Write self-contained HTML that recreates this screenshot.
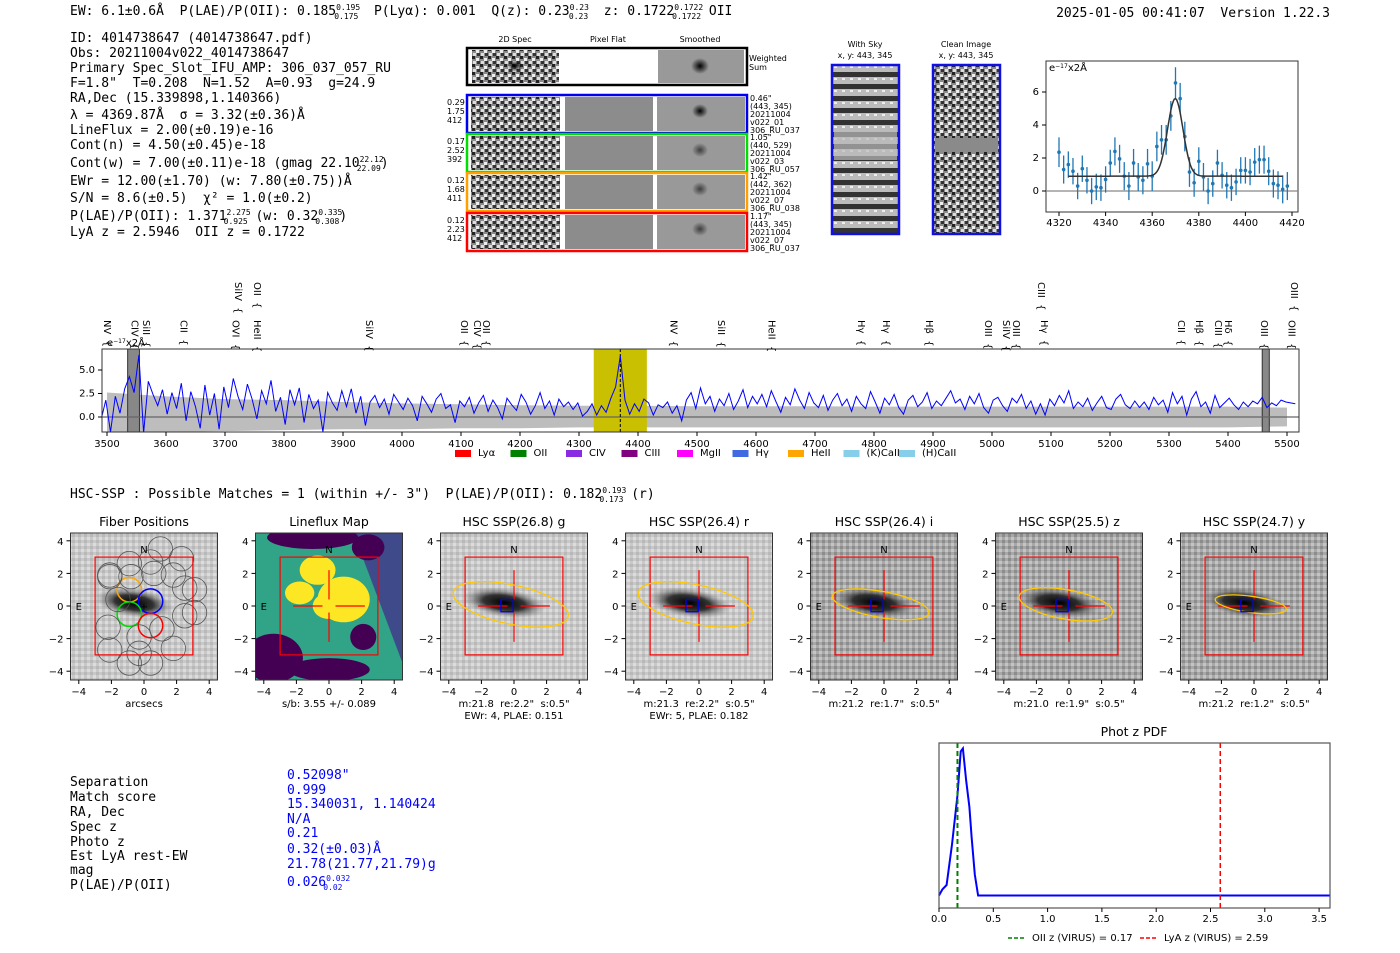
<!DOCTYPE html>
<html><head><meta charset="utf-8"><style>
html,body{margin:0;padding:0;background:#fff;}
svg{display:block;}
text{white-space:pre;}
.mono{font-family:"DejaVu Sans Mono","Liberation Mono",monospace;font-size:13px;fill:#000;}
.tk{font-family:"DejaVu Sans","Liberation Sans",sans-serif;font-size:10px;fill:#000;}
.sm{font-family:"DejaVu Sans","Liberation Sans",sans-serif;font-size:8px;fill:#000;}
.ttl{font-family:"DejaVu Sans","Liberation Sans",sans-serif;font-size:12.5px;fill:#000;}
</style></head><body>
<svg id="fig" width="1400" height="953" viewBox="0 0 1400 953" xmlns="http://www.w3.org/2000/svg" xml:space="preserve">
<defs>
<pattern id="noise" width="8" height="8" patternUnits="userSpaceOnUse">
<rect width="8" height="8" fill="#8a8a8a"/><rect x="0" y="0" width="3" height="3" fill="#222"/><rect x="4" y="2" width="3" height="3" fill="#eee"/><rect x="1" y="5" width="3" height="3" fill="#ddd"/><rect x="5" y="5" width="3" height="3" fill="#333"/>
</pattern>
<pattern id="hscn" width="6" height="6" patternUnits="userSpaceOnUse">
<rect width="6" height="6" fill="#c8c8c8"/><rect x="0" y="0" width="3" height="3" fill="#b8b8b8"/><rect x="3" y="3" width="3" height="3" fill="#dcdcdc"/>
</pattern>
<pattern id="hscd" width="6" height="6" patternUnits="userSpaceOnUse">
<rect width="6" height="6" fill="#a8a8a8"/><rect x="0" y="0" width="3" height="3" fill="#8c8c8c"/><rect x="3" y="3" width="3" height="3" fill="#c4c4c4"/>
</pattern>
<pattern id="sky" width="8" height="12" patternUnits="userSpaceOnUse">
<rect width="8" height="12" fill="#bbb"/><rect y="0" width="8" height="5" fill="#333"/><rect x="2" y="6" width="3" height="2" fill="#eee"/>
</pattern>
<radialGradient id="gal"><stop offset="0" stop-color="#000"/><stop offset="0.5" stop-color="#222" stop-opacity="0.9"/><stop offset="1" stop-color="#888" stop-opacity="0"/></radialGradient>
<radialGradient id="blob"><stop offset="0" stop-color="#000"/><stop offset="1" stop-color="#000" stop-opacity="0"/></radialGradient>
</defs>

<!-- header -->
<text class="mono" x="70" y="15">EW: 6.1±0.6Å  P(LAE)/P(OII): 0.185<tspan font-size="8" dy="-5">0.195</tspan><tspan font-size="8" dx="-26" dy="9">0.175</tspan><tspan dy="-4">  P(Lyα): 0.001  Q(z): 0.23</tspan><tspan font-size="8" dy="-5">0.23</tspan><tspan font-size="8" dx="-20" dy="9">0.23</tspan><tspan dy="-4">  z: 0.1722</tspan><tspan font-size="8" dy="-5">0.1722</tspan><tspan font-size="8" dx="-31" dy="9">0.1722</tspan><tspan dy="-4"> OII</tspan></text>
<text class="mono" x="1330" y="17" text-anchor="end">2025-01-05 00:41:07  Version 1.22.3</text>

<g class="mono">
<text x="70" y="42">ID: 4014738647 (4014738647.pdf)</text>
<text x="70" y="57">Obs: 20211004v022_4014738647</text>
<text x="70" y="72">Primary Spec_Slot_IFU_AMP: 306_037_057_RU</text>
<text x="70" y="87">F=1.8"  T=0.208  N=1.52  A=0.93  g=24.9</text>
<text x="70" y="102">RA,Dec (15.339898,1.140366)</text>
<text x="70" y="119">λ = 4369.87Å  σ = 3.32(±0.36)Å</text>
<text x="70" y="134">LineFlux = 2.00(±0.19)e-16</text>
<text x="70" y="149">Cont(n) = 4.50(±0.45)e-18</text>
<text x="70" y="167">Cont(w) = 7.00(±0.11)e-18 (gmag 22.10<tspan font-size="8" dy="-5">22.12</tspan><tspan font-size="8" dx="-27" dy="9">22.09</tspan><tspan dy="-4">)</tspan></text>
<text x="70" y="185">EWr = 12.00(±1.70) (w: 7.80(±0.75))Å</text>
<text x="70" y="202">S/N = 8.6(±0.5)  χ² = 1.0(±0.2)</text>
<text x="70" y="220">P(LAE)/P(OII): 1.371<tspan font-size="8" dy="-5">2.275</tspan><tspan font-size="8" dx="-27" dy="9">0.925</tspan><tspan dy="-4"> (w: 0.32</tspan><tspan font-size="8" dy="-5">0.335</tspan><tspan font-size="8" dx="-27" dy="9">0.308</tspan><tspan dy="-4">)</tspan></text>
<text x="70" y="236">LyA z = 2.5946  OII z = 0.1722</text>
</g>

<!-- 2D spec cutouts -->
<g>
<text class="sm" x="515" y="42" text-anchor="middle">2D Spec</text>
<text class="sm" x="608" y="42" text-anchor="middle">Pixel Flat</text>
<text class="sm" x="700" y="42" text-anchor="middle">Smoothed</text>
<rect x="467" y="48" width="280" height="37" fill="#fff" stroke="#000" stroke-width="2.5"/>
<rect x="472" y="50" width="87" height="33" fill="url(#noise)"/>
<ellipse cx="515" cy="66" rx="8" ry="6" fill="url(#blob)"/>
<rect x="658" y="50" width="86" height="33" fill="#999"/>
<ellipse cx="700" cy="66" rx="9" ry="8" fill="url(#blob)"/>
<text class="sm" x="749" y="61">Weighted</text><text class="sm" x="749" y="70">Sum</text>
<g id="rows2d"></g>
</g>

<g>
<text class="sm" x="865" y="47" text-anchor="middle" font-size="9">With Sky</text>
<text class="sm" x="865" y="58" text-anchor="middle" font-size="9">x, y: 443, 345</text>
<rect x="832" y="65" width="67" height="169" fill="url(#sky)" stroke="#1010e0" stroke-width="2.5"/>
<rect x="834" y="130" width="63" height="30" fill="#bbb" opacity="0.7"/>
<text class="sm" x="966" y="47" text-anchor="middle" font-size="9">Clean Image</text>
<text class="sm" x="966" y="58" text-anchor="middle" font-size="9">x, y: 443, 345</text>
<rect x="933" y="65" width="67" height="169" fill="url(#noise)" stroke="#1010e0" stroke-width="2.5"/>
<rect x="935" y="138" width="63" height="14" fill="#8a8a8a"/>
</g>

<g id="gfit"></g>
<g id="spec"></g>

<text class="mono" x="70" y="498">HSC-SSP : Possible Matches = 1 (within +/- 3")  P(LAE)/P(OII): 0.182<tspan font-size="8" dy="-5">0.193</tspan><tspan font-size="8" dx="-27" dy="9">0.173</tspan><tspan dy="-4"> (r)</tspan></text>
<g id="hsc"></g>

<g class="mono">
<text x="70" y="786">Separation</text><text x="70" y="801">Match score</text><text x="70" y="816">RA, Dec</text><text x="70" y="831">Spec z</text><text x="70" y="846">Photo z</text><text x="70" y="860">Est LyA rest-EW</text><text x="70" y="874">mag</text><text x="70" y="889">P(LAE)/P(OII)</text>
<g style="fill:#0000ff">
<text x="287" y="779" fill="#00f">0.52098"</text><text x="287" y="794" fill="#00f">0.999</text><text x="287" y="808" fill="#00f">15.340031, 1.140424</text><text x="287" y="823" fill="#00f">N/A</text><text x="287" y="837" fill="#00f">0.21</text><text x="287" y="853" fill="#00f">0.32(±0.03)Å</text><text x="287" y="868" fill="#00f">21.78(21.77,21.79)g</text><text x="287" y="886" fill="#00f">0.026<tspan font-size="8" dy="-5">0.032</tspan><tspan font-size="8" dx="-27" dy="9">0.02</tspan></text>
</g></g>

<g id="pz"></g>
</svg>
<script>
// ---------- data ----------
const fitWave=[4320,4322,4324,4326,4328,4330,4332,4334,4336,4338,4340,4342,4344,4346,4348,4350,4352,4354,4356,4358,4360,4362,4364,4366,4368,4370,4372,4374,4376,4378,4380,4382,4384,4386,4388,4390,4392,4394,4396,4398,4400,4402,4404,4406,4408,4410,4412,4414,4416,4418];
const fitFlux=[2.35,1.3,1.6,1.2,0.3,1.35,0.65,0.0,0.25,0.2,0.7,1.7,2.4,1.95,0.9,0.3,1.7,0.85,0.65,1.65,0.9,2.7,3.1,3.1,4.55,6.55,5.6,3.3,1.15,0.5,1.8,0.85,0.0,0.45,1.7,0.95,0.35,0.2,0.55,1.25,1.25,1.15,1.75,1.9,1.9,1.2,0.45,0.35,0.1,0.3];
const fitErr=[0.9,0.85,0.8,0.8,0.8,0.8,0.8,0.8,0.8,0.8,0.8,0.8,0.85,0.85,0.85,0.85,0.85,0.85,0.85,0.9,0.9,0.9,0.9,0.9,0.9,0.95,0.95,0.9,0.9,0.85,0.85,0.85,0.8,0.8,0.8,0.8,0.8,0.8,0.8,0.8,0.8,0.8,0.85,0.85,0.85,0.85,0.85,0.85,0.85,0.85];
const fitModel=[0.9,4.7,4369.9,3.3]; // continuum, amplitude, center, sigma
const fitXTicks=[4320,4340,4360,4380,4400,4420];
const fitYTicks=[0,2,4,6];

const specStart=3490, specStep=8;
const specFlux=[-0.3,1.8,-1.6,2.2,0.4,3.0,4.3,2.6,6.6,-1.7,3.8,2.4,1.2,2.9,0.3,2.6,0.9,3.6,-0.4,2.7,
1.1,-1.2,3.4,0.2,2.5,-1.3,3.2,1.0,4.1,2.2,0.8,3.5,1.9,-0.2,2.8,1.4,3.9,0.6,2.1,-0.8,
2.9,1.3,3.1,-0.6,2.4,0.9,1.8,-1.6,2.6,1.5,0.7,2.8,1.1,3.0,0.4,2.2,-0.9,1.6,2.3,1.0,
1.9,0.3,2.4,1.6,0.8,2.0,1.2,-0.4,2.2,1.4,0.5,1.9,2.5,0.9,1.3,-0.6,1.7,1.1,2.1,0.4,
1.5,2.3,0.6,1.8,1.0,-0.2,2.0,1.3,0.7,2.4,1.6,0.3,1.2,2.6,0.9,1.7,0.2,1.9,1.1,1.6,
0.8,1.5,0.1,0.6,1.4,0.2,1.2,0.5,2.0,3.2,6.5,1.8,0.3,1.4,0.6,1.9,1.5,0.2,1.3,1.0,
1.6,0.4,1.2,-0.4,1.8,2.6,0.9,3.1,1.4,2.2,0.6,1.9,1.2,2.5,0.8,1.7,2.9,1.0,2.2,1.4,
2.4,1.1,2.8,1.6,0.5,2.1,1.3,3.0,1.8,0.9,2.6,1.5,1.0,2.3,0.7,1.8,2.5,1.2,1.9,0.6,
2.2,1.4,0.9,2.7,1.6,0.4,2.0,1.3,2.4,1.0,0.3,1.8,2.3,1.1,1.6,2.6,0.9,1.7,1.2,2.0,
2.8,1.5,1.9,0.8,2.2,1.4,2.5,1.0,0.4,1.8,2.1,1.2,0.6,2.0,1.5,2.4,0.9,1.7,0.3,1.4,
0.2,1.9,1.2,2.3,1.5,2.8,0.9,1.6,1.1,2.0,0.7,1.5,2.2,1.0,0.8,1.9,2.4,1.3,0.9,1.7,
1.0,1.6,0.8,2.1,1.3,1.8,0.5,2.6,1.4,2.2,0.2,1.9,2.7,1.1,1.6,0.4,2.3,1.0,1.5,2.0,
1.3,0.8,1.6,1.1,1.7,1.4,2.1,1.0,1.5,1.2,1.8,1.6,1.5,1.4];
const errWave=[3500,3600,3700,3800,3900,4000,4100,4200,4300,4400,4500,4600,4700,4800,4900,5000,5100,5200,5300,5400,5500];
const errUp=[2.6,2.2,1.9,1.8,1.6,1.45,1.35,1.25,1.2,1.2,1.15,1.15,1.15,1.1,1.1,1.1,1.1,1.1,1.1,1.1,1.0];
const errLo=[-1.6,-1.6,-1.5,-1.4,-1.3,-1.3,-1.2,-1.2,-1.1,-1.1,-1.1,-1.1,-1.1,-1.1,-1.1,-1.1,-1.1,-1.1,-1.1,-1.1,-1.0];
const specXTicks=[3500,3600,3700,3800,3900,4000,4100,4200,4300,4400,4500,4600,4700,4800,4900,5000,5100,5200,5300,5400,5500];
const specYTicks=[0.0,2.5,5.0];
const lineNames=["NV","CIV","SiII","CII","OVI","HeII","SiIV","OII","CIV","OII","NV","SiII","HeII","Hγ","Hγ","Hβ","OIII","SiIV","OIII","Hγ","CII","Hβ","CIII","Hδ","OIII","OIII","SiIV","OII","CIII","OIII"];
const lineWave=[3500,3547,3566,3630,3718,3754,3944,4105,4127,4142,4460,4541,4626,4778,4820,4893,4993,5024,5041,5088,5320,5351,5383,5400,5461,5508,3722,3754,5083,5512];
const lineRow=[0,0,0,0,0,0,0,0,0,0,0,0,0,0,0,0,0,0,0,0,0,0,0,0,0,0,1,1,1,1];
const lineColor=["#9932cc","#800080","#9932cc","#ff00ff","#ff0000","#9932cc","#9932cc","#87cefa","#ffa500","#87cefa","#ff0000","#ff0000","#9932cc","#87cefa","#87cefa","#4169e1","#4169e1","#ff0000","#4169e1","#008000","#9932cc","#87cefa","#9932cc","#87cefa","#87cefa","#87cefa","#ffa500","#4169e1","#ffa500","#87cefa"];
const legNames=["Lyα","OII","CIV","CIII","MgII","Hγ","HeII","(K)CaII","(H)CaII"];
const legColors=["#ff0000","#008000","#8a2be2","#800080","#ff00ff","#4169e1","#ffa500","#87ceeb","#87ceeb"];

const pzZ=[0,0.03,0.07,0.12,0.17,0.2,0.22,0.25,0.28,0.3,0.33,0.36,0.5,1.0,2.0,3.0,3.6];
const pzP=[0.01,0.05,0.08,0.35,0.68,0.97,0.99,0.78,0.6,0.4,0.15,0.01,0.01,0.01,0.01,0.01,0.01];
const pzTicks=[0.0,0.5,1.0,1.5,2.0,2.5,3.0,3.5];
const pzOII=0.17, pzLyA=2.59;

const hscTitles=["Fiber Positions","Lineflux Map","HSC SSP(26.8) g","HSC SSP(26.4) r","HSC SSP(26.4) i","HSC SSP(25.5) z","HSC SSP(24.7) y"];
const hscCap1=["arcsecs","s/b: 3.55 +/- 0.089",'m:21.8  re:2.2"  s:0.5"','m:21.3  re:2.2"  s:0.5"','m:21.2  re:1.7"  s:0.5"','m:21.0  re:1.9"  s:0.5"','m:21.2  re:1.2"  s:0.5"'];
const hscCap2=["","","EWr: 4, PLAE: 0.151","EWr: 5, PLAE: 0.182","","",""];
const ellRx=[0,0,3.6,3.6,3.0,2.9,2.2];
const ellRy=[0,0,1.2,1.2,0.8,0.9,0.5];
const ellAng=[0,0,12,12,10,10,8];
const hscTicks=[-4,-2,0,2,4];
const fiberX=[-0.9,0.4,-0.9,0.4,-2.1,-0.9,0.4,1.8,2.5,-2.2,-0.3,1.1,2.5,-2.1,-0.9,0.4,1.8,-1.6,-0.3,1.0,-2.1,-0.8,0.6,2.3,3.1,3.1];
const fiberY=[1.0,0.3,-0.5,-1.2,1.8,2.6,2.7,1.9,1.1,-1.3,-1.9,-1.4,-0.6,-2.7,-3.5,-3.5,-2.6,0.4,-2.9,3.5,1.9,1.8,2.0,2.9,1.0,-0.4];
const fiberCol=["#ffa500","#0000ff","#00dd00","#ff0000"];

const rowColors=["#0000ee","#00e000","#ffa000","#ff0000"];
const rowL1=["0.29","0.17","0.12","0.12"], rowL2=["1.75","2.52","1.68","2.23"], rowL3=["412","392","411","412"];
const rowR=[['0.46"',"(443, 345)","20211004","v022_01","306_RU_037"],['1.05"',"(440, 529)","20211004","v022_03","306_RU_057"],['1.42"',"(442, 362)","20211004","v022_07","306_RU_038"],['1.17"',"(443, 345)","20211004","v022_07","306_RU_037"]];

// ---------- helpers ----------
const NS="http://www.w3.org/2000/svg";
function mk(tag,attrs,parent){const e=document.createElementNS(NS,tag);for(const k in attrs)e.setAttribute(k,attrs[k]);parent.appendChild(e);return e;}

// ---------- 2D rows ----------
(function(){
const g=document.getElementById('rows2d');
const top=[95,134,173,213];
for(let i=0;i<4;i++){
 const y=top[i];
 let r=mk('rect',{x:467,y:y,width:280,height:38,fill:'#fff',stroke:rowColors[i],'stroke-width':2.5},g);
 
 
 let a=mk('rect',{x:471,y:y+2,width:89,height:34,fill:'url(#noise)'},g);
 
 
 let b=mk('rect',{x:565,y:y+2,width:88,height:34,fill:'#8c8c8c'},g);
 
 
 let c=mk('rect',{x:657,y:y+2,width:88,height:34,fill:'#999'},g);
 
 
 let d=mk('ellipse',{cx:700,cy:y+16,rx:8,ry:7,fill:'url(#blob)',opacity:i==0?1:0.6},g);
 
 
 [rowL1[i],rowL2[i],rowL3[i]].forEach((t,j)=>{let tx=mk('text',{x:447,y:y+10+j*9,class:'sm'},g);tx.textContent=t;
  
  });
 rowR[i].forEach((t,j)=>{let tx=mk('text',{x:750,y:y+6+j*8,class:'sm','font-size':6},g);tx.textContent=t;
  
  });
}})();

// ---------- line fit plot ----------
(function(){
const g=document.getElementById('gfit');
const L=1046,R=1298,T=61,B=212;
const sx=w=>1059+(w-4320)*2.33, sy=v=>191-v*16.5;
let fr=mk('rect',{x:L,y:T,width:R-L,height:B-T,fill:'none',stroke:'#333'},g);


let z=mk('line',{x1:L,x2:R,y1:sy(0),y2:sy(0),stroke:'#888','stroke-width':1.2},g);


fitXTicks.forEach(t=>{let l=mk('line',{x1:sx(t),x2:sx(t),y1:B,y2:B+4,stroke:'#000'},g);
 
 
 let tx=mk('text',{x:sx(t),y:B+14,class:'tk','text-anchor':'middle','font-size':9},g);tx.textContent=t;
 
 });
fitYTicks.forEach(t=>{let l=mk('line',{x1:L-4,x2:L,y1:sy(t),y2:sy(t),stroke:'#000'},g);
 
 
 let tx=mk('text',{x:L-7,y:sy(t)+3,class:'tk','text-anchor':'end','font-size':9},g);tx.textContent=t;
 
 });
let u=mk('text',{x:L+3,y:T+10,class:'tk','font-size':9},g);u.innerHTML='e<tspan font-size="6" dy="-3">−17</tspan><tspan dy="3">x2Å</tspan>';


fitWave.forEach((w,i)=>{
 let e=mk('line',{x1:sx(w),x2:sx(w),y1:sy(fitFlux[i]-fitErr[i]),y2:sy(fitFlux[i]+fitErr[i]),stroke:'#1f77b4','stroke-width':1.3},g);
 
 
 let c=mk('circle',{cx:sx(w),cy:sy(fitFlux[i]),r:1.8,fill:'#1f77b4'},g);
 
 });
let d='';
for(let w=4324;w<=4416;w+=0.5){const v=fitModel[0]+fitModel[1]*Math.exp(-0.5*Math.pow((w-fitModel[2])/fitModel[3],2));d+=(d?'L':'M')+sx(w).toFixed(1)+','+sy(v).toFixed(1);}
let p=mk('path',{d:d,fill:'none',stroke:'#333','stroke-width':1.5},g);


})();

// ---------- full spectrum ----------
(function(){
const g=document.getElementById('spec');
const L=102,R=1299,T=349,B=432;
const sx=w=>107+(w-3500)*0.59, sy=v=>417-v*9.4;
let clip=mk('clipPath',{id:'specclip'},g);
mk('rect',{x:L,y:T,width:R-L,height:B-T},clip);
const inner=mk('g',{'clip-path':'url(#specclip)'},g);


let d='';
errWave.forEach((w,i)=>{d+=(i?'L':'M')+sx(w)+','+sy(errUp[i]);});
for(let i=errWave.length-1;i>=0;i--)d+='L'+sx(errWave[i])+','+sy(errLo[i]);
let band=mk('path',{d:d+'Z',fill:'#bdbdbd'},inner);


let yel=mk('rect',{x:sx(4325),y:T,width:sx(4415)-sx(4325),height:B-T,fill:'#c8c000'},inner);


[[3535,3555],[5458,5470]].forEach(r=>{let m=mk('rect',{x:sx(r[0]),y:T,width:sx(r[1])-sx(r[0]),height:B-T,fill:'#888',stroke:'#333'},inner);
 
 });
let z=mk('line',{x1:L,x2:R,y1:sy(0),y2:sy(0),stroke:'#666','stroke-width':1.2},inner);


let vl=mk('line',{x1:sx(4370),x2:sx(4370),y1:T,y2:B,stroke:'#000','stroke-dasharray':'3,2'},inner);


let pd='';
specFlux.forEach((v,i)=>{pd+=(i?'L':'M')+sx(specStart+i*specStep).toFixed(1)+','+sy(v).toFixed(1);});
let sp=mk('path',{d:pd,fill:'none',stroke:'#0000ff','stroke-width':1},inner);


let fr=mk('rect',{x:L,y:T,width:R-L,height:B-T,fill:'none',stroke:'#333'},g);


specXTicks.forEach(t=>{let l=mk('line',{x1:sx(t),x2:sx(t),y1:B,y2:B+4,stroke:'#000'},g);
 
 
 let tx=mk('text',{x:sx(t),y:B+15,class:'tk','text-anchor':'middle','font-size':9.5},g);tx.textContent=t;
 
 });
specYTicks.forEach(t=>{let l=mk('line',{x1:L-4,x2:L,y1:sy(t),y2:sy(t),stroke:'#000'},g);
 
 
 let tx=mk('text',{x:L-7,y:sy(t)+3,class:'tk','text-anchor':'end','font-size':9.5},g);tx.textContent=t.toFixed(1);
 
 });
let u=mk('text',{x:107,y:346,class:'tk','font-size':9},g);u.innerHTML='e<tspan font-size="6" dy="-3">−17</tspan><tspan dy="3">x2Å</tspan>';


lineNames.forEach((n,i)=>{
 const x=sx(lineWave[i]), y0=lineRow[i]?282:320;
 let t=mk('text',{x:x,y:y0,class:'tk','font-size':9,fill:lineColor[i],transform:`rotate(90 ${x} ${y0})`,'dominant-baseline':'middle'},g);
 t.textContent=n+'  {';
 
 });
legNames.forEach((n,i)=>{
 const x=455+i*55.5;
 let r=mk('rect',{x:x,y:450,width:16,height:7,fill:legColors[i]},g);
 
 
 let t=mk('text',{x:x+23,y:456,class:'tk','font-size':7.5},g);t.textContent=n;
 
 });
})();

// ---------- HSC panels ----------
(function(){
const g=document.getElementById('hsc');
const S=16.3;
for(let p=0;p<7;p++){
 const cx=144+p*185, cy=606, L=cx-73.5, T=533, W=147, H=147;
 const X=v=>cx+v*S, Y=v=>cy-v*S;
 const pg=mk('g',{},g);
 
 
 const cp=mk('clipPath',{id:'pclip'+p},pg);
 mk('rect',{x:L,y:T,width:W,height:H},cp);
 const ig=mk('g',{'clip-path':`url(#pclip${p})`},pg);
 
 
 let bg;
 if(p==1){
  bg=mk('rect',{x:L,y:T,width:W,height:H,fill:'#31a386'},ig);
  let tr=mk('polygon',{points:`${X(1.5)},${T} ${L+W},${T} ${L+W},${Y(-3.5)}`,fill:'#3e4a89'},ig);
  
  
  [[-3.4,-3.2,1.8,1.5,'#440154'],[-1.0,4.2,2.8,0.7,'#440154'],[2.4,3.6,1.0,0.8,'#440154'],[2.1,-1.9,0.8,0.8,'#440154'],[-0.7,2.2,1.1,0.9,'#fde725'],[0.9,0.4,1.6,1.4,'#fde725'],[-1.8,0.8,0.9,0.7,'#fde725'],[0,-3.9,2.5,0.7,'#440154'],[0.0,0.0,1.0,0.8,'#fde725']].forEach(a=>{let e=mk('ellipse',{cx:X(a[0]),cy:Y(a[1]),rx:a[2]*S,ry:a[3]*S,fill:a[4]},ig);
   
   });
 } else {
  bg=mk('rect',{x:L,y:T,width:W,height:H,fill:(p>=4?'url(#hscd)':'url(#hscn)')},ig);
  let gx=mk('ellipse',{cx:X(-0.6),cy:Y(0.2),rx:(p==0?2.4:2.6)*S,ry:0.9*S,fill:'url(#gal)',transform:`rotate(8 ${X(-0.6)} ${Y(0.2)})`},ig);
  
  
 }
 
 
 if(p==0){
  fiberX.forEach((fx,i)=>{let c=mk('circle',{cx:X(fx),cy:Y(fiberY[i]),r:0.75*S,fill:'none',stroke:i<4?fiberCol[i]:'#555','stroke-width':i<4?1.5:0.8},ig);
   
   });
 }
 let sq=mk('rect',{x:X(-3),y:Y(3),width:6*S,height:6*S,fill:'none',stroke:'#ff0000','stroke-width':1.2},pg);
 
 
 if(p>=1){
  [[-2.2,0,-0.4,0],[0.4,0,2.2,0],[0,2.2,0,0.4],[0,-0.4,0,-2.2]].forEach(a=>{let l=mk('line',{x1:X(a[0]),y1:Y(a[1]),x2:X(a[2]),y2:Y(a[3]),stroke:'#ff0000','stroke-width':1.2},pg);
   
   });
 } else {
  let t=mk('text',{x:X(0),y:Y(0)+4,fill:'#f00','text-anchor':'middle','font-size':11,class:'tk'},pg);t.textContent='+';
  
  
 }
 if(p>=2){
  let e=mk('ellipse',{cx:X(-0.2),cy:Y(0.1),rx:ellRx[p]*S,ry:ellRy[p]*S,fill:'none',stroke:'#ffc800','stroke-width':1.3,transform:`rotate(${ellAng[p]} ${X(-0.2)} ${Y(0.1)})`},pg);
  
  
  let b=mk('rect',{x:X(-0.8),y:Y(0.4),width:0.75*S,height:0.75*S,fill:'none',stroke:'#0000ff','stroke-width':1.3},pg);
  
  
 }
 let n=mk('text',{x:X(0),y:Y(3.5)+4,fill:'#f00','text-anchor':'middle',class:'tk'},pg);n.textContent='N';
 
 
 let e2=mk('text',{x:X(-4),y:Y(0)+4,fill:'#f00','text-anchor':'middle',class:'tk'},pg);e2.textContent='E';
 
 
 let fr=mk('rect',{x:L,y:T,width:W,height:H,fill:'none',stroke:'#333'},pg);
 
 
 hscTicks.forEach(t=>{
  let a=mk('line',{x1:X(t),x2:X(t),y1:T+H,y2:T+H+4,stroke:'#000'},pg);
  
  
  let at=mk('text',{x:X(t),y:T+H+15,class:'tk','text-anchor':'middle'},pg);at.textContent=t<0?'−'+(-t):t;
  
  
  let b=mk('line',{x1:L-4,x2:L,y1:Y(t),y2:Y(t),stroke:'#000'},pg);
  
  
  let bt=mk('text',{x:L-7,y:Y(t)+4,class:'tk','text-anchor':'end'},pg);bt.textContent=t<0?'−'+(-t):t;
  
  
 });
 let ti=mk('text',{x:cx,y:526,class:'ttl','text-anchor':'middle'},pg);ti.textContent=hscTitles[p];
 
 
 let c1=mk('text',{x:cx,y:707,class:'tk','text-anchor':'middle'},pg);c1.textContent=hscCap1[p];
 
 
 if(hscCap2[p]){let c2=mk('text',{x:cx,y:719,class:'tk','text-anchor':'middle'},pg);c2.textContent=hscCap2[p];
  
  }
}})();

// ---------- phot z ----------
(function(){
const g=document.getElementById('pz');
const L=939,R=1330,T=743,B=908;
const sx=z=>939+z*108.6, sy=p=>897-p*150;
let ti=mk('text',{x:1134,y:736,class:'ttl','text-anchor':'middle'},g);ti.textContent='Phot z PDF';


let d='';pzZ.forEach((z,i)=>{d+=(i?'L':'M')+sx(z).toFixed(1)+','+sy(pzP[i]).toFixed(1);});
let p=mk('path',{d:d,fill:'none',stroke:'#0000ff','stroke-width':2},g);


let o=mk('line',{x1:sx(pzOII),x2:sx(pzOII),y1:T,y2:B,stroke:'#008000','stroke-width':2,'stroke-dasharray':'5,3'},g);


let l=mk('line',{x1:sx(pzLyA),x2:sx(pzLyA),y1:T,y2:B,stroke:'#ff0000','stroke-width':1.5,'stroke-dasharray':'5,3'},g);


let fr=mk('rect',{x:L,y:T,width:R-L,height:B-T,fill:'none',stroke:'#555','stroke-width':1.2},g);


pzTicks.forEach(t=>{let a=mk('line',{x1:sx(t),x2:sx(t),y1:B,y2:B+4,stroke:'#000'},g);
 
 
 let at=mk('text',{x:sx(t),y:B+14,class:'tk','text-anchor':'middle'},g);at.textContent=t.toFixed(1);
 
 });
[[1008,'#008000','OII z (VIRUS) = 0.17'],[1140,'#ff0000','LyA z (VIRUS) = 2.59']].forEach(a=>{
 let ln=mk('line',{x1:a[0],x2:a[0]+17,y1:938,y2:938,stroke:a[1],'stroke-width':1.5,'stroke-dasharray':'4,2'},g);
 
 
 let t=mk('text',{x:a[0]+24,y:941,class:'tk','font-size':8},g);t.textContent=a[2];
 
 });
})();
</script>
</body></html>
